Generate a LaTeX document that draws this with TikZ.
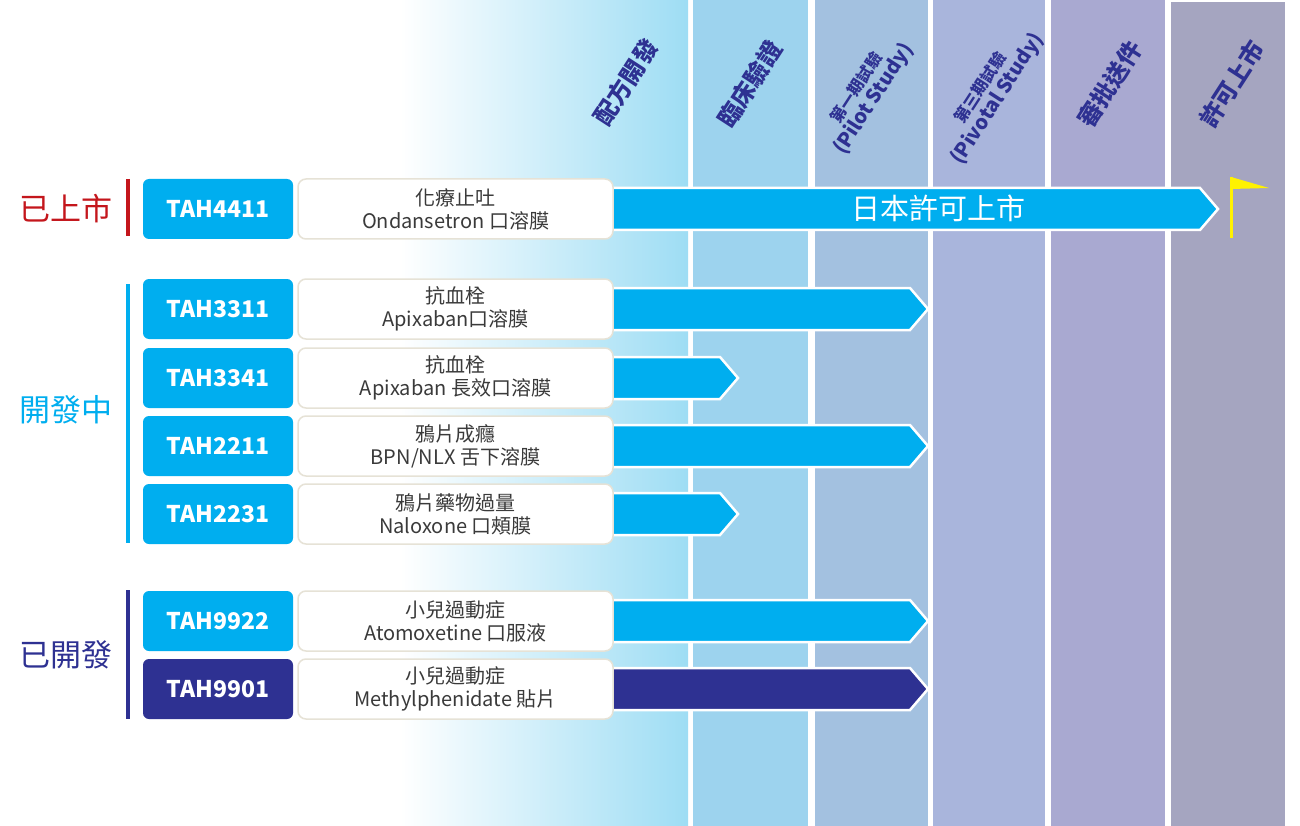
\documentclass[tikz,border=0pt]{standalone}
\usepackage{fontspec}
\setmainfont{Noto Sans CJK TC}
\usetikzlibrary{calc}
\definecolor{cy}{HTML}{00AEEF}
\definecolor{dk}{HTML}{2E3192}
\definecolor{rd}{HTML}{C4161C}
\definecolor{c0}{HTML}{9EDDF4}
\definecolor{c1}{HTML}{9DD3EE}
\definecolor{c2}{HTML}{A3C1E0}
\definecolor{c3}{HTML}{A9B5DC}
\definecolor{c4}{HTML}{A9A9D1}
\definecolor{c5}{HTML}{A5A5C0}
\definecolor{bd}{HTML}{E6E2D6}
\definecolor{tx}{HTML}{3A3A3A}
\tikzset{
 idbox/.style={fill=#1,rounded corners=6pt,minimum width=150pt,minimum height=60pt,text=white,font=\fontsize{23}{26}\selectfont\bfseries,inner sep=0},
 desc/.style={fill=white,draw=bd,line width=1.5pt,rounded corners=8pt,minimum width=315pt,minimum height=60pt,text=tx,font=\fontsize{20}{23}\selectfont,align=center,inner sep=0},
 head/.style={rotate=57,text=dk,font=\fontsize{24}{26}\selectfont\bfseries,align=center},
 headsm/.style={rotate=57,text=dk,font=\fontsize{20}{21}\selectfont\bfseries,align=center},
 cat/.style={font=\fontsize{31}{34}\selectfont,text=#1},
 arr/.style={fill=#1,draw=white,line width=2.5pt,line join=miter}
}
\begin{document}
\begin{tikzpicture}[x=1pt,y=-1pt]
\useasboundingbox (0,0) rectangle (1300,826);
\fill[white] (0,0) rectangle (1300,826);
% columns
\shade[left color=white,right color=c0] (400,0) rectangle (688,826);
\fill[c1] (693,0) rectangle (808,826);
\fill[c2] (815,0) rectangle (928,826);
\fill[c3] (933,0) rectangle (1045,826);
\fill[c4] (1051,0) rectangle (1165,826);
\fill[c5] (1171,2) rectangle (1285,826);
% headers
\node[head] (h1) at (626,82) {配方開發};
\node[head] (h2) at (750,84) {臨床驗證};
\node[headsm] (h3) at (866,94) {{\fontsize{16}{18}\selectfont 第一期試驗}\\(Pilot Study)};
\node[headsm] (h4) at (990,94) {{\fontsize{16}{18}\selectfont 第三期試驗}\\(Pivotal Study)};
\node[head] (h5) at (1110,84) {審批送件};
\node[head] (h6) at (1232,84) {許可上市};
% categories
\node[cat=rd] (k1) at (66,209) {已上市};
\draw[rd,line width=4pt] (128,179) -- (128,236);
\node[cat=cy] (k2) at (66,410) {開發中};
\draw[cy,line width=4pt] (128,284) -- (128,543);
\node[cat=dk] (k3) at (66,655) {已開發};
\draw[dk,line width=4pt] (128,590) -- (128,719);
% rows
\newcommand{\row}[7]{%
 \draw[arr=#7] (605,#1-21) -- (#6-18,#1-21) -- (#6,#1) -- (#6-18,#1+21) -- (605,#1+21) -- cycle;
 \node[idbox=#5] (i#2) at (218,#1) {#2};
 \node[desc] (d#2) at (455.5,#1) {#3\\#4};
}
\row{209}{TAH4411}{化療止吐}{Ondansetron 口溶膜}{cy}{1218}{cy}
\node[text=white,font=\fontsize{29}{32}\selectfont] (m) at (938,208) {日本許可上市};
\row{309}{TAH3311}{抗血栓}{Apixaban口溶膜}{cy}{928}{cy}
\row{378}{TAH3341}{抗血栓}{Apixaban 長效口溶膜}{cy}{738}{cy}
\row{446}{TAH2211}{鴉片成癮}{BPN/NLX 舌下溶膜}{cy}{928}{cy}
\row{514}{TAH2231}{鴉片藥物過量}{Naloxone 口頰膜}{cy}{738}{cy}
\row{621}{TAH9922}{小兒過動症}{Atomoxetine 口服液}{cy}{928}{cy}
\row{689}{TAH9901}{小兒過動症}{Methylphenidate 貼片}{dk}{928}{dk}
% flag
\draw[yellow,line width=3pt] (1231,177) -- (1231,238);
\fill[yellow] (1231,177) -- (1269,188) -- (1231,189) -- cycle;
\end{tikzpicture}
\end{document}
